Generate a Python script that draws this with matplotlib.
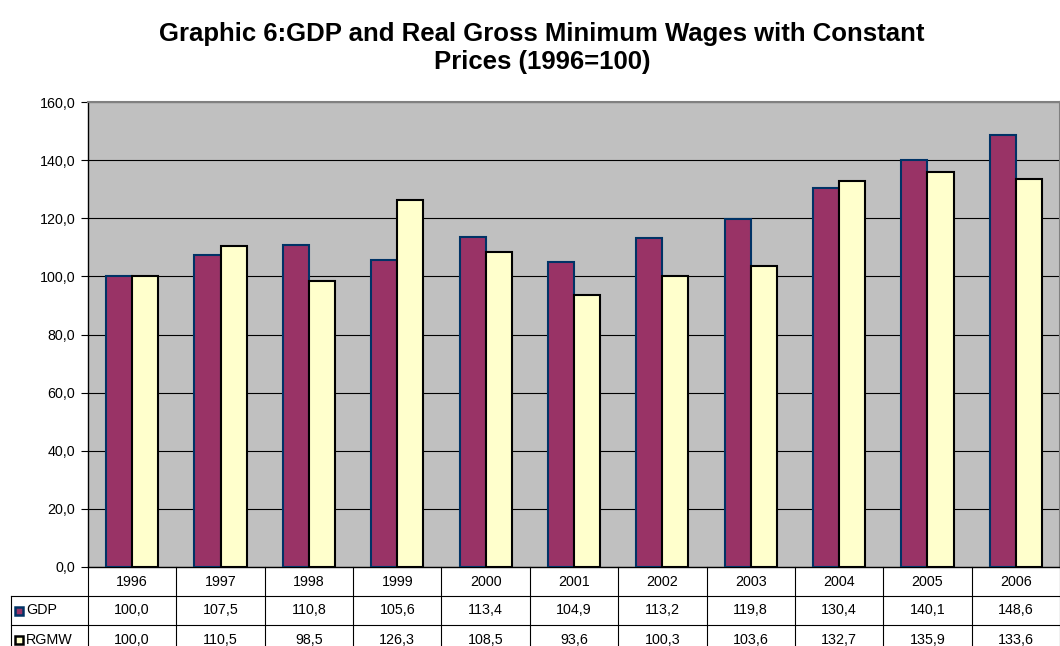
import numpy as np
import matplotlib
matplotlib.use("Agg")
from matplotlib import pyplot as plt
from matplotlib import transforms
from matplotlib.patches import Rectangle

years = ["1996", "1997", "1998", "1999", "2000", "2001", "2002", "2003", "2004", "2005", "2006"]
gdp = [100.0, 107.5, 110.8, 105.6, 113.4, 104.9, 113.2, 119.8, 130.4, 140.1, 148.6]
rgmw = [100.0, 110.5, 98.5, 126.3, 108.5, 93.6, 100.3, 103.6, 132.7, 135.9, 133.6]
series_names = ["GDP", "RGMW"]
yticks = [0, 20, 40, 60, 80, 100, 120, 140, 160]

plt.rcParams['font.family'] = ['Liberation Sans', 'DejaVu Sans']

fig = plt.figure(figsize=(10.6, 6.46), dpi=100)
ax = fig.add_axes([88 / 1060, 1 - 567 / 646, 972 / 1060, 465 / 646])
ax.set_facecolor("#C0C0C0")

x = np.arange(len(years))
w = 0.295
ax.bar(x - w / 2, gdp, w, color="#993366", edgecolor="#003366", linewidth=1.5, zorder=3)
ax.bar(x + w / 2, rgmw, w, color="#FFFFCC", edgecolor="black", linewidth=1.5, zorder=3)

ax.set_xlim(-0.5, len(years) - 0.5)
ax.set_ylim(0, 160)
ax.set_yticks(yticks)
ax.set_yticklabels([f"{v:.1f}".replace(".", ",") for v in yticks], fontsize=10.3)
ax.yaxis.grid(True, color="black", linewidth=0.8, zorder=0)
ax.set_axisbelow(True)
ax.set_xticks([])
ax.tick_params(axis="y", length=5, width=0.8, pad=4)
for s in ["top", "right"]:
    ax.spines[s].set_color("#808080")
    ax.spines[s].set_linewidth(1.5)
ax.spines["left"].set_linewidth(1.0)
ax.spines["bottom"].set_linewidth(1.0)

# data table below axis
tr = transforms.blended_transform_factory(ax.transData, ax.transAxes)
rh = 29 / 465
left_lbl = -0.5 - 77 / 88.4
n = len(years)
lk = dict(color="black", linewidth=0.8, clip_on=False, transform=tr)
ax.plot([left_lbl, n - 0.5], [-rh, -rh], **lk)
ax.plot([left_lbl, n - 0.5], [-2 * rh, -2 * rh], **lk)
for b in np.arange(-0.5, n, 1.0):
    ax.plot([b, b], [0, -3 * rh], **lk)
ax.plot([left_lbl, left_lbl], [-rh, -3 * rh], **lk)

fs = 10.3
for i, yr in enumerate(years):
    ax.text(i, -0.5 * rh, yr, ha="center", va="center", fontsize=fs, transform=tr)
    ax.text(i, -1.5 * rh, f"{gdp[i]:.1f}".replace(".", ","), ha="center", va="center",
            fontsize=fs, transform=tr)
    ax.text(i, -2.5 * rh, f"{rgmw[i]:.1f}".replace(".", ","), ha="center", va="center",
            fontsize=fs, transform=tr)

# legend keys in row labels
keys = [("#993366", "#003366"), ("#FFFFCC", "black")]
for j, (name, (fc, ec)) in enumerate(zip(series_names, keys)):
    yc = 1 - (567 + 29 * (j + 1) + 14.5) / 646
    fig.patches.append(Rectangle((15 / 1060, yc - 4 / 646), 8 / 1060, 8 / 646,
                                 facecolor=fc, edgecolor=ec, linewidth=1.8,
                                 transform=fig.transFigure))
    fig.text(26 / 1060, yc, name, ha="left", va="center", fontsize=fs)

fig.text(542 / 1060, 1 - 48 / 646, "Graphic 6:GDP and Real Gross Minimum Wages with Constant\nPrices (1996=100)",
         ha="center", va="center", fontsize=18.5, fontweight="bold", linespacing=1.22)

fig.savefig("out.png", dpi=100)
